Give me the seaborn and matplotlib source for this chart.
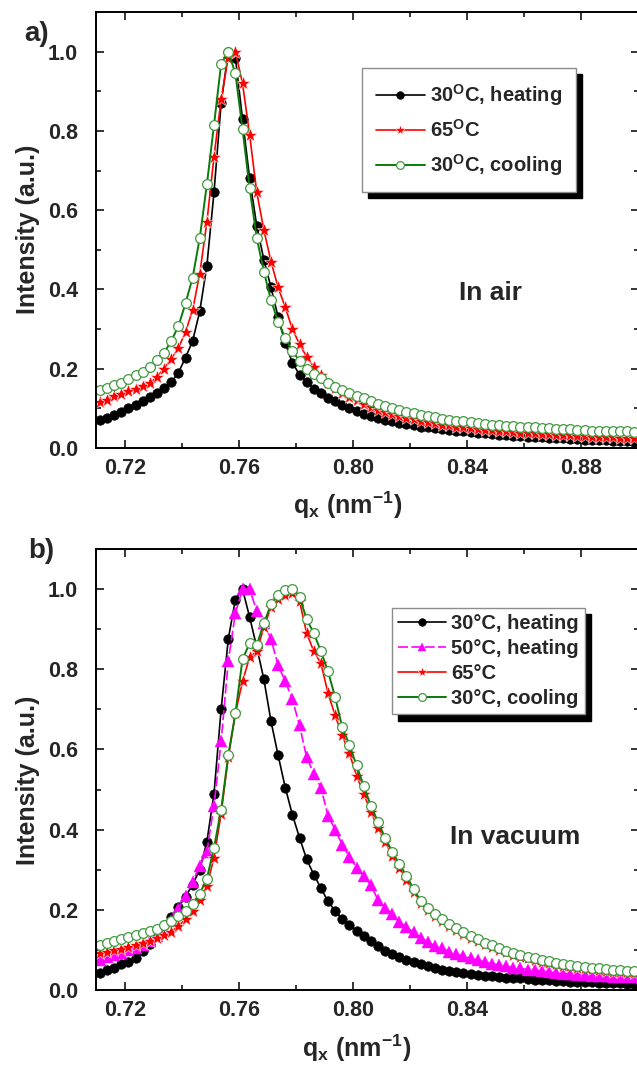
import matplotlib
matplotlib.use('Agg')
import matplotlib.pyplot as plt
import seaborn as sns
from matplotlib.ticker import MultipleLocator, FormatStrFormatter

# scattering vector q_x (nm^-1), same sampling for all curves
q = [0.7112, 0.7137, 0.7162, 0.7187, 0.7212, 0.7237, 0.7262, 0.7287, 0.7312, 0.7337,
     0.7362, 0.7387, 0.7412, 0.7437, 0.7462, 0.7487, 0.7512, 0.7537, 0.7562, 0.7587,
     0.7612, 0.7637, 0.7662, 0.7687, 0.7712, 0.7737, 0.7762, 0.7787, 0.7812, 0.7837,
     0.7862, 0.7887, 0.7912, 0.7937, 0.7962, 0.7987, 0.8012, 0.8037, 0.8062, 0.8087,
     0.8112, 0.8137, 0.8162, 0.8187, 0.8212, 0.8237, 0.8262, 0.8287, 0.8312, 0.8337,
     0.8362, 0.8387, 0.8412, 0.8437, 0.8462, 0.8487, 0.8512, 0.8537, 0.8562, 0.8587,
     0.8612, 0.8637, 0.8662, 0.8687, 0.8712, 0.8737, 0.8762, 0.8787, 0.8812, 0.8837,
     0.8862, 0.8887, 0.8912, 0.8937, 0.8962, 0.8987, 0.9012]

# a) in air
air_30_heat = [0.070, 0.076, 0.083, 0.090, 0.100, 0.108, 0.118, 0.129, 0.140, 0.152,
               0.166, 0.190, 0.228, 0.270, 0.345, 0.460, 0.645, 0.870, 1.000, 0.985,
               0.830, 0.680, 0.560, 0.475, 0.405, 0.330, 0.264, 0.215, 0.185, 0.167,
               0.150, 0.138, 0.127, 0.118, 0.109, 0.101, 0.094, 0.087, 0.081, 0.076,
               0.071, 0.067, 0.063, 0.060, 0.057, 0.054, 0.052, 0.050, 0.048, 0.046,
               0.044, 0.042, 0.040, 0.039, 0.037, 0.035, 0.034, 0.033, 0.031, 0.030,
               0.029, 0.028, 0.027, 0.026, 0.025, 0.024, 0.023, 0.022, 0.021, 0.020,
               0.019, 0.019, 0.018, 0.017, 0.017, 0.016, 0.016]
air_65 = [0.116, 0.122, 0.130, 0.136, 0.143, 0.149, 0.156, 0.163, 0.180, 0.200,
          0.225, 0.252, 0.293, 0.348, 0.440, 0.570, 0.735, 0.880, 0.985, 1.000,
          0.920, 0.790, 0.645, 0.550, 0.470, 0.405, 0.355, 0.300, 0.262, 0.230,
          0.205, 0.183, 0.165, 0.151, 0.139, 0.129, 0.120, 0.112, 0.104, 0.097,
          0.091, 0.085, 0.080, 0.076, 0.072, 0.068, 0.065, 0.062, 0.059, 0.057,
          0.054, 0.052, 0.050, 0.048, 0.046, 0.045, 0.043, 0.042, 0.040, 0.039,
          0.038, 0.037, 0.036, 0.035, 0.034, 0.033, 0.032, 0.031, 0.030, 0.029,
          0.028, 0.028, 0.027, 0.026, 0.026, 0.025, 0.025]
air_30_cool = [0.146, 0.152, 0.158, 0.165, 0.174, 0.183, 0.192, 0.205, 0.221, 0.240,
               0.270, 0.307, 0.365, 0.430, 0.530, 0.665, 0.815, 0.970, 1.000, 0.945,
               0.805, 0.655, 0.530, 0.445, 0.373, 0.318, 0.278, 0.244, 0.220, 0.200,
               0.187, 0.176, 0.165, 0.155, 0.147, 0.139, 0.132, 0.125, 0.118, 0.112,
               0.106, 0.101, 0.096, 0.092, 0.088, 0.084, 0.080, 0.077, 0.074, 0.071,
               0.069, 0.067, 0.065, 0.063, 0.061, 0.059, 0.058, 0.056, 0.055, 0.054,
               0.053, 0.052, 0.051, 0.050, 0.049, 0.048, 0.047, 0.046, 0.045, 0.044,
               0.044, 0.043, 0.043, 0.042, 0.042, 0.041, 0.041]

# b) in vacuum
vac_30_heat = [0.043, 0.050, 0.056, 0.064, 0.071, 0.081, 0.097, 0.115, 0.139, 0.161,
               0.183, 0.207, 0.233, 0.263, 0.300, 0.370, 0.490, 0.700, 0.875, 0.974,
               1.000, 0.930, 0.855, 0.775, 0.670, 0.585, 0.505, 0.437, 0.380, 0.326,
               0.288, 0.254, 0.221, 0.197, 0.177, 0.162, 0.148, 0.135, 0.121, 0.109,
               0.098, 0.091, 0.083, 0.076, 0.071, 0.066, 0.060, 0.055, 0.051, 0.048,
               0.045, 0.042, 0.040, 0.038, 0.036, 0.034, 0.032, 0.031, 0.030, 0.029,
               0.027, 0.026, 0.025, 0.024, 0.023, 0.022, 0.021, 0.020, 0.019, 0.019,
               0.018, 0.018, 0.017, 0.017, 0.016, 0.016, 0.015]
vac_50_heat = [0.076, 0.082, 0.087, 0.093, 0.099, 0.106, 0.113, 0.123, 0.135, 0.150,
               0.172, 0.203, 0.235, 0.270, 0.310, 0.345, 0.460, 0.620, 0.820, 0.940,
               1.000, 1.000, 0.945, 0.915, 0.875, 0.810, 0.770, 0.725, 0.660, 0.580,
               0.540, 0.505, 0.435, 0.400, 0.362, 0.332, 0.305, 0.285, 0.262, 0.225,
               0.205, 0.190, 0.170, 0.156, 0.145, 0.130, 0.120, 0.110, 0.104, 0.096,
               0.090, 0.084, 0.079, 0.074, 0.070, 0.066, 0.062, 0.059, 0.056, 0.054,
               0.051, 0.049, 0.047, 0.045, 0.043, 0.041, 0.040, 0.038, 0.037, 0.036,
               0.035, 0.034, 0.033, 0.033, 0.032, 0.032, 0.031]
vac_65 = [0.092, 0.095, 0.099, 0.103, 0.107, 0.111, 0.116, 0.122, 0.129, 0.136,
          0.145, 0.160, 0.176, 0.197, 0.225, 0.260, 0.330, 0.440, 0.580, 0.690,
          0.770, 0.830, 0.845, 0.905, 0.955, 0.975, 0.985, 0.990, 0.970, 0.890,
          0.845, 0.815, 0.740, 0.685, 0.635, 0.590, 0.535, 0.490, 0.445, 0.405,
          0.370, 0.335, 0.305, 0.275, 0.245, 0.218, 0.200, 0.185, 0.171, 0.159,
          0.149, 0.139, 0.130, 0.122, 0.114, 0.107, 0.100, 0.094, 0.088, 0.083,
          0.079, 0.075, 0.071, 0.068, 0.064, 0.061, 0.059, 0.056, 0.054, 0.052,
          0.050, 0.048, 0.046, 0.045, 0.044, 0.043, 0.042]
vac_30_cool = [0.113, 0.117, 0.121, 0.126, 0.131, 0.136, 0.141, 0.147, 0.153, 0.162,
               0.172, 0.184, 0.198, 0.215, 0.240, 0.278, 0.355, 0.450, 0.585, 0.690,
               0.825, 0.865, 0.860, 0.915, 0.962, 0.985, 0.997, 1.000, 0.980, 0.925,
               0.890, 0.845, 0.795, 0.730, 0.655, 0.612, 0.560, 0.510, 0.460, 0.420,
               0.380, 0.345, 0.315, 0.285, 0.252, 0.222, 0.205, 0.190, 0.176, 0.164,
               0.154, 0.144, 0.134, 0.126, 0.118, 0.111, 0.104, 0.098, 0.092, 0.087,
               0.083, 0.079, 0.075, 0.072, 0.068, 0.065, 0.063, 0.060, 0.058, 0.056,
               0.054, 0.052, 0.050, 0.049, 0.048, 0.047, 0.046]

air_labels = ['30$^{\\rm O}$C, heating', '65$^{\\rm O}$C', '30$^{\\rm O}$C, cooling']
vac_labels = ['30°C, heating', '50°C, heating', '65°C', '30°C, cooling']

sns.set_style('ticks')
plt.rcParams['font.family'] = ['Liberation Sans', 'DejaVu Sans']
plt.rcParams['font.weight'] = 'bold'
plt.rcParams['axes.labelweight'] = 'bold'
plt.rcParams['mathtext.fontset'] = 'custom'
plt.rcParams['mathtext.rm'] = 'Liberation Sans:bold'
plt.rcParams['mathtext.it'] = 'Liberation Sans:bold'
plt.rcParams['mathtext.bf'] = 'Liberation Sans:bold'

# marker / line styles
st_black = dict(color='k', marker='o', markersize=6.8, markerfacecolor='k', markeredgecolor='k',
                markeredgewidth=0.5, linewidth=1.2, linestyle='-')
st_red = dict(color='#ff0000', marker='*', markersize=10, markerfacecolor='#ff0000',
              markeredgecolor='white', markeredgewidth=0.4, linewidth=1.2, linestyle='-')
st_green = dict(color='#0b7a0b', marker='o', markersize=7, markerfacecolor='white',
                markeredgecolor='#3f9a3f', markeredgewidth=0.9, linewidth=1.4, linestyle='-')
st_mag = dict(color='#ff00ff', marker='^', markersize=8, markerfacecolor='#ff00ff',
              markeredgecolor='#ff00ff', markeredgewidth=0.3, linewidth=1.2, linestyle=(0, (6, 2)))

fig = plt.figure(figsize=(6.37, 10.68), dpi=100)
ax1 = fig.add_axes([96 / 637, 620 / 1068, 543 / 637, 436 / 1068])
ax2 = fig.add_axes([96 / 637, 78 / 1068, 543 / 637, 441 / 1068])

sns.lineplot(x=q, y=air_30_heat, ax=ax1, label=air_labels[0], errorbar=None, **st_black)
sns.lineplot(x=q, y=air_65, ax=ax1, label=air_labels[1], errorbar=None, **st_red)
sns.lineplot(x=q, y=air_30_cool, ax=ax1, label=air_labels[2], errorbar=None, **st_green)

sns.lineplot(x=q, y=vac_30_heat, ax=ax2, label=vac_labels[0], errorbar=None, **st_black)
sns.lineplot(x=q, y=vac_50_heat, ax=ax2, label=vac_labels[1], errorbar=None, **st_mag)
sns.lineplot(x=q, y=vac_65, ax=ax2, label=vac_labels[2], errorbar=None, **st_red)
sns.lineplot(x=q, y=vac_30_cool, ax=ax2, label=vac_labels[3], errorbar=None, **st_green)

for ax in (ax1, ax2):
    ax.set_xlim(0.7098, 0.9003)
    ax.set_ylim(0, 1.1)
    ax.xaxis.set_major_locator(MultipleLocator(0.04))
    ax.xaxis.set_minor_locator(MultipleLocator(0.02))
    ax.yaxis.set_major_locator(MultipleLocator(0.2))
    ax.yaxis.set_minor_locator(MultipleLocator(0.1))
    ax.xaxis.set_major_formatter(FormatStrFormatter('%.2f'))
    ax.yaxis.set_major_formatter(FormatStrFormatter('%.1f'))
    ax.tick_params(which='both', direction='in', top=True, right=True, width=1.1, color='k')
    ax.tick_params(which='major', length=6)
    ax.tick_params(which='minor', length=3.5)
    ax.tick_params(axis='x', which='major', pad=7, labelsize=15.5)
    ax.tick_params(axis='y', which='major', pad=13, labelsize=15.5)
    for lab in ax.get_xticklabels() + ax.get_yticklabels():
        lab.set_fontweight('bold')
    for sp in ax.spines.values():
        sp.set_linewidth(1.4)
        sp.set_color('k')
    ax.set_ylabel('Intensity (a.u.)', fontsize=18, fontweight='bold')
    ax.set_xlabel('$\\mathrm{q_x\\ (nm^{-1})}$', fontsize=18, fontweight='bold')

ax1.yaxis.set_label_coords(-0.103, 0.502)
ax2.yaxis.set_label_coords(-0.103, 0.476)
ax1.xaxis.set_label_coords(0.464, -0.095)
ax2.xaxis.set_label_coords(0.48, -0.097)

ax1.text(0.7256, 0.356, 'In air', transform=ax1.transAxes, fontsize=19, fontweight='bold',
         ha='center', va='center')
ax2.text(0.772, 0.347, 'In vacuum', transform=ax2.transAxes, fontsize=19, fontweight='bold',
         ha='center', va='center')

fig.text(37 / 637, 1 - 34 / 1068, 'a)', fontsize=20, fontweight='bold', ha='center', va='center')
fig.text(41 / 637, 1 - 551 / 1068, 'b)', fontsize=20, fontweight='bold', ha='center', va='center')

shadow = {'ox': 4.5, 'oy': -4.5, 'color': 'k', 'alpha': 1}
leg1 = ax1.legend(loc='upper left', bbox_to_anchor=(0.490, 0.8716), borderaxespad=0,
                  frameon=True, fancybox=False, shadow=shadow, fontsize=14.5, markerscale=0.8,
                  handlelength=2.4, handletextpad=0.25, labelspacing=0.55, borderpad=0.7)
leg2 = ax2.legend(loc='upper left', bbox_to_anchor=(0.545, 0.866), borderaxespad=0,
                  frameon=True, fancybox=False, shadow=shadow, fontsize=14.5, markerscale=0.8,
                  handlelength=2.4, handletextpad=0.25, labelspacing=0.3, borderpad=0.3)
for leg in (leg1, leg2):
    fr = leg.get_frame()
    fr.set_edgecolor('#8c8c8c')
    fr.set_linewidth(1.0)
    fr.set_facecolor('white')
    fr.set_alpha(1)
    for t in leg.get_texts():
        t.set_fontweight('bold')

fig.savefig('out.png', dpi=100)
